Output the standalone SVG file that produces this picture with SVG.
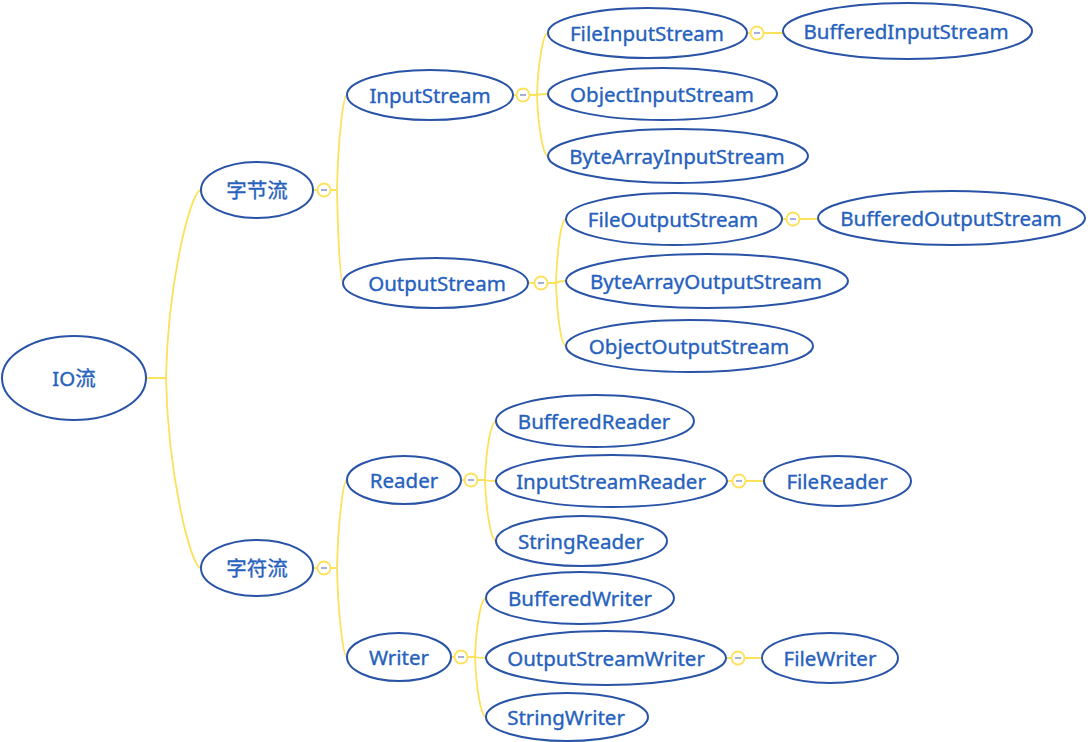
<svg xmlns="http://www.w3.org/2000/svg" width="1090" height="742" viewBox="0 0 1090 742">
<style>
.n ellipse{fill:#fff;stroke:#2953a6;stroke-width:2}
.n text{font-family:"Noto Sans","Noto Sans CJK SC",sans-serif;font-size:20.5px;fill:#2561bd;stroke:#2561bd;stroke-width:0.35;text-anchor:middle;dominant-baseline:central}
.c path{fill:none;stroke:#fce15a;stroke-width:1.8}
.t circle{fill:#fff;stroke:#fce15a;stroke-width:1.8}
.t line{stroke:#8e9cc6;stroke-width:1.6}
</style>
<rect width="1090" height="742" fill="#fff"/>
<g id="connectors" class="c">
<path d="M146,378 H166 M166,378 C168,280 191,190 201,190 M166,378 C168,476 191,568 201,568"/>
<path d="M314,190 H317.5 M330.5,190 H337 M337,190 C338,142 343,95 347,95 M337,190 C338,236 340,283 343,283"/>
<path d="M314,568 H317.5 M330.5,568 H337 M337,568 C338,524 343,480 347,480 M337,568 C338,612 343,657 347,657"/>
<path d="M513,95 H516.5 M529.5,95 H537 M537,95 C538,64 543,33 548,33 M537,95 C540,94 544,94 548,94 M537,95 C538,125 543,156 548,156"/>
<path d="M528,283 H534.5 M547.5,283 H556 M556,283 C557,251 561,219 566,219 M556,283 C559,281 562,281 566,281 M556,283 C557,314 561,346 566,346"/>
<path d="M461,480 H464.5 M477.5,480 H485 M485,480 C486,450 491,421 496,421 M485,480 C488,481 492,481 496,481 M485,480 C486,510 491,541 496,541"/>
<path d="M451,657 H454.5 M467.5,657 H475 M475,657 C476,627 481,598 486,598 M475,657 C478,658 482,658 486,658 M475,657 C476,687 481,717 486,717"/>
<path d="M747,33 H750.5 M763.5,33 H783"/>
<path d="M782,219 H786.5 M799.5,219 H818"/>
<path d="M727,481 H732.5 M745.5,481 H764"/>
<path d="M726,658 H731.5 M744.5,658 H762"/>
</g>
<g id="toggles" class="t">
<circle cx="324" cy="190" r="6.5"/><line x1="321" y1="190" x2="327" y2="190"/>
<circle cx="324" cy="568" r="6.5"/><line x1="321" y1="568" x2="327" y2="568"/>
<circle cx="523" cy="95" r="6.5"/><line x1="520" y1="95" x2="526" y2="95"/>
<circle cx="541" cy="283" r="6.5"/><line x1="538" y1="283" x2="544" y2="283"/>
<circle cx="471" cy="480" r="6.5"/><line x1="468" y1="480" x2="474" y2="480"/>
<circle cx="461" cy="657" r="6.5"/><line x1="458" y1="657" x2="464" y2="657"/>
<circle cx="757" cy="33" r="6.5"/><line x1="754" y1="33" x2="760" y2="33"/>
<circle cx="793" cy="219" r="6.5"/><line x1="790" y1="219" x2="796" y2="219"/>
<circle cx="739" cy="481" r="6.5"/><line x1="736" y1="481" x2="742" y2="481"/>
<circle cx="738" cy="658" r="6.5"/><line x1="735" y1="658" x2="741" y2="658"/>
</g>
<g id="io" class="n"><ellipse cx="74" cy="378" rx="72" ry="42"/><text x="74" y="378">IO流</text></g>
<g id="byte" class="n"><ellipse cx="257" cy="190" rx="56" ry="28"/><text x="257" y="190">字节流</text></g>
<g id="char" class="n"><ellipse cx="257" cy="568" rx="56" ry="28"/><text x="257" y="568">字符流</text></g>
<g id="inputstream" class="n"><ellipse cx="430" cy="95" rx="83" ry="25"/><text x="430" y="95">InputStream</text></g>
<g id="outputstream" class="n"><ellipse cx="435.5" cy="283" rx="92.5" ry="25"/><text x="437" y="283">OutputStream</text></g>
<g id="reader" class="n"><ellipse cx="404" cy="480" rx="57" ry="24"/><text x="404" y="480">Reader</text></g>
<g id="writer" class="n"><ellipse cx="399" cy="657" rx="52" ry="24"/><text x="399" y="657">Writer</text></g>
<g id="fileinputstream" class="n"><ellipse cx="647.5" cy="33" rx="99.5" ry="25"/><text x="647" y="33">FileInputStream</text></g>
<g id="bufferedinputstream" class="n"><ellipse cx="907.5" cy="31" rx="124.5" ry="28"/><text x="906" y="31">BufferedInputStream</text></g>
<g id="objectinputstream" class="n"><ellipse cx="662.5" cy="94" rx="114.5" ry="26"/><text x="662" y="94">ObjectInputStream</text></g>
<g id="bytearrayinputstream" class="n"><ellipse cx="678" cy="156" rx="130" ry="27"/><text x="677" y="156">ByteArrayInputStream</text></g>
<g id="fileoutputstream" class="n"><ellipse cx="674" cy="219" rx="108" ry="26"/><text x="673" y="219">FileOutputStream</text></g>
<g id="bufferedoutputstream" class="n"><ellipse cx="951.5" cy="218" rx="133.5" ry="27"/><text x="951" y="218">BufferedOutputStream</text></g>
<g id="bytearrayoutputstream" class="n"><ellipse cx="707" cy="281" rx="141" ry="27"/><text x="706" y="281">ByteArrayOutputStream</text></g>
<g id="objectoutputstream" class="n"><ellipse cx="689.5" cy="346" rx="123.5" ry="26"/><text x="689" y="346">ObjectOutputStream</text></g>
<g id="bufferedreader" class="n"><ellipse cx="595" cy="421" rx="99" ry="26"/><text x="594" y="421">BufferedReader</text></g>
<g id="inputstreamreader" class="n"><ellipse cx="611.5" cy="481" rx="115.5" ry="26"/><text x="611" y="481">InputStreamReader</text></g>
<g id="filereader" class="n"><ellipse cx="837.5" cy="481" rx="73.5" ry="25"/><text x="837" y="481">FileReader</text></g>
<g id="stringreader" class="n"><ellipse cx="581.5" cy="541" rx="85.5" ry="25"/><text x="581" y="541">StringReader</text></g>
<g id="bufferedwriter" class="n"><ellipse cx="580" cy="598" rx="94" ry="26"/><text x="580" y="598">BufferedWriter</text></g>
<g id="outputstreamwriter" class="n"><ellipse cx="606" cy="658" rx="120" ry="27"/><text x="606" y="658">OutputStreamWriter</text></g>
<g id="filewriter" class="n"><ellipse cx="830" cy="658" rx="68" ry="25"/><text x="830" y="658">FileWriter</text></g>
<g id="stringwriter" class="n"><ellipse cx="567" cy="717" rx="81" ry="24"/><text x="566" y="717">StringWriter</text></g>
</svg>
